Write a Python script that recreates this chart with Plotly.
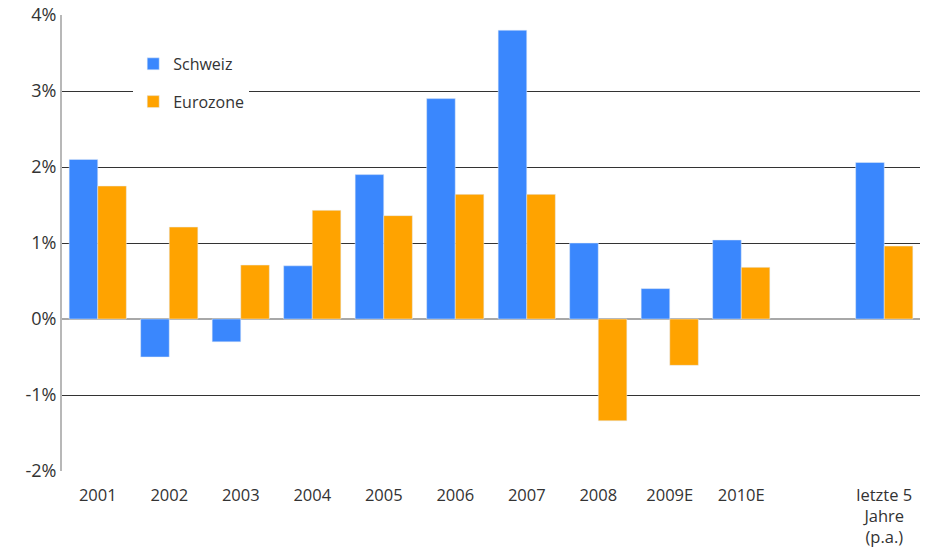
import plotly.graph_objects as go

categories = ["2001", "2002", "2003", "2004", "2005", "2006", "2007", "2008", "2009E", "2010E", "", "letzte 5<br>Jahre<br>(p.a.)"]
schweiz = [2.1, -0.5, -0.3, 0.7, 1.9, 2.9, 3.8, 1.0, 0.4, 1.04, None, 2.06]
eurozone = [1.75, 1.21, 0.71, 1.43, 1.36, 1.64, 1.64, -1.34, -0.61, 0.68, None, 0.96]
ytick_vals = [-2, -1, 0, 1, 2, 3, 4]
ytick_text = ["-2%", "-1%", "0%", "1%", "2%", "3%", "4%"]

xpos = list(range(len(categories)))

fig = go.Figure()
fig.add_trace(go.Bar(x=xpos, y=schweiz, name="Schweiz", marker_color="#3a87fd",
                     legendgroup="a"))
fig.add_trace(go.Bar(x=xpos, y=eurozone, name="Eurozone", marker_color="#ffa300",
                     legendgroup="b"))

fig.update_layout(
    width=926, height=550,
    margin=dict(l=62, r=6, t=15, b=79, autoexpand=False),
    paper_bgcolor="white", plot_bgcolor="white",
    barmode="group", bargap=0.2, bargroupgap=0,
    font=dict(family="Open Sans, Noto Sans, sans-serif", size=16, color="#333333"),
    showlegend=True,
    legend=dict(x=0.083, y=0.93, xanchor="left", yanchor="top",
                bgcolor="white", font=dict(size=16, color="#333333"),
                tracegroupgap=14, itemwidth=30,
                borderwidth=0),
    xaxis=dict(tickmode="array", tickvals=xpos, ticktext=categories,
               range=[-0.5, len(categories) - 0.5], showgrid=False,
               showline=False, ticks="", zeroline=False, automargin=False,
               ticklabelstandoff=12,
               tickfont=dict(size=16.5, color="#333333")),
    yaxis=dict(range=[-2, 4], tickvals=ytick_vals, ticktext=ytick_text,
               showgrid=True, gridcolor="#333333", gridwidth=1,
               zeroline=True, zerolinecolor="#a8a8a8", zerolinewidth=2,
               showline=True, linecolor="#b8b8b8", linewidth=2,
               ticks="", ticklabelstandoff=0, automargin=False,
               tickfont=dict(size=18, color="#333333")),
)

fig.write_html("out.html")
